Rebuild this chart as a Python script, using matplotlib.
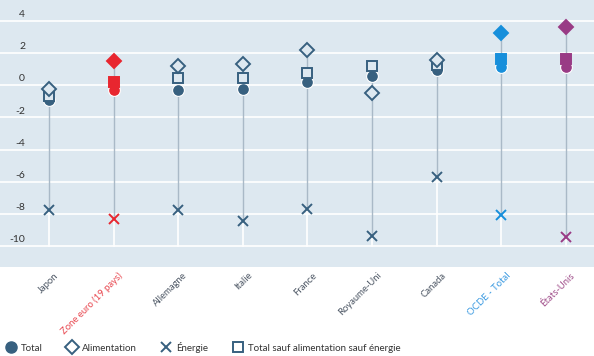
import matplotlib
matplotlib.use("Agg")
import matplotlib.pyplot as plt
from matplotlib.lines import Line2D

plt.rcParams['font.family'] = ['Lato', 'DejaVu Sans']

categories = ["Japon", "Zone euro (19 pays)", "Allemagne", "Italie", "France",
              "Royaume-Uni", "Canada", "OCDE - Total", "États-Unis"]
total = [-0.9, -0.3, -0.3, -0.2, 0.2, 0.58, 0.95, 1.14, 1.14]
alimentation = [-0.25, 1.5, 1.2, 1.35, 2.2, -0.5, 1.6, 3.25, 3.6]
energie = [-7.75, -8.35, -7.75, -8.45, -7.7, -9.35, -5.7, -8.1, -9.45]
sous_jacent = [-0.65, 0.22, 0.47, 0.43, 0.77, 1.2, 1.25, 1.66, 1.66]
yticks = [4, 2, 0, -2, -4, -6, -8, -10]

DARK = '#37607f'
BG = '#dde8f0'
colors = [DARK, '#e8262f', DARK, DARK, DARK, DARK, DARK, '#178fdb', '#993b85']
filled = [False, True, False, False, False, False, False, True, True]
label_colors = ['#4b5563', '#e8474f', '#4b5563', '#4b5563', '#4b5563', '#4b5563',
                '#4b5563', '#3b9ae1', '#a04e8a']

fig = plt.figure(figsize=(5.94, 3.56), dpi=100)
ax = fig.add_axes([0, 0.25, 1, 0.75])
ax.set_facecolor(BG)
ax.set_xlim(-0.758, 8.437)
ax.set_ylim(-11.31, 5.31)
for s in ax.spines.values():
    s.set_visible(False)
ax.set_xticks([])
ax.set_yticks([])

for t in yticks:
    ax.axhline(t, color='white', lw=1.2, zorder=1)
    ax.text(-0.37, t + 0.12, str(t), ha='right', va='bottom', fontsize=7.5,
            color='#333333', zorder=2)

for i in range(len(categories)):
    vals = [total[i], alimentation[i], energie[i], sous_jacent[i]]
    lo, hi = min(vals), max(vals)
    ax.plot([i, i], [-10, lo], color='white', lw=1.2, zorder=1.5)
    ax.plot([i, i], [lo, hi], color='#a9b9c7', lw=1.0, zorder=2)
    c = colors[i]
    face = c if filled[i] else BG
    ax.plot(i, energie[i], marker='x', ms=6.5, mew=1.4, color=c, ls='none', zorder=3)
    ax.plot(i, total[i], marker='o', ms=8.5, mfc=c, mec='white', mew=0.8, ls='none', zorder=4)
    ax.plot(i, sous_jacent[i], marker='s', ms=7.2, mfc=face, mec=c,
            mew=1.4, ls='none', zorder=5)
    ax.plot(i, alimentation[i], marker='D', ms=7.2, mfc=face, mec=c, mew=1.4, ls='none', zorder=6)
    ax.text(i + 0.07, -11.55, categories[i], rotation=45, ha='right', va='top',
            rotation_mode='anchor', fontsize=6.8, color=label_colors[i], clip_on=False)

handles = [
    Line2D([], [], marker='o', ls='none', ms=8, mfc=DARK, mec=DARK),
    Line2D([], [], marker='D', ls='none', ms=7, mfc='white', mec=DARK, mew=1.4),
    Line2D([], [], marker='x', ls='none', ms=7, color=DARK, mew=1.4),
    Line2D([], [], marker='s', ls='none', ms=7, mfc='white', mec=DARK, mew=1.4),
]
labels = ["Total", "Alimentation", "Énergie", "Total sauf alimentation sauf énergie"]
fig.legend(handles, labels, loc='lower left', bbox_to_anchor=(-0.005, -0.015), ncol=4,
           frameon=False, fontsize=7.0, handlelength=1.0, handletextpad=0.55,
           columnspacing=2.5, labelcolor='#333333')

fig.savefig('out.png', dpi=100, facecolor='white')
